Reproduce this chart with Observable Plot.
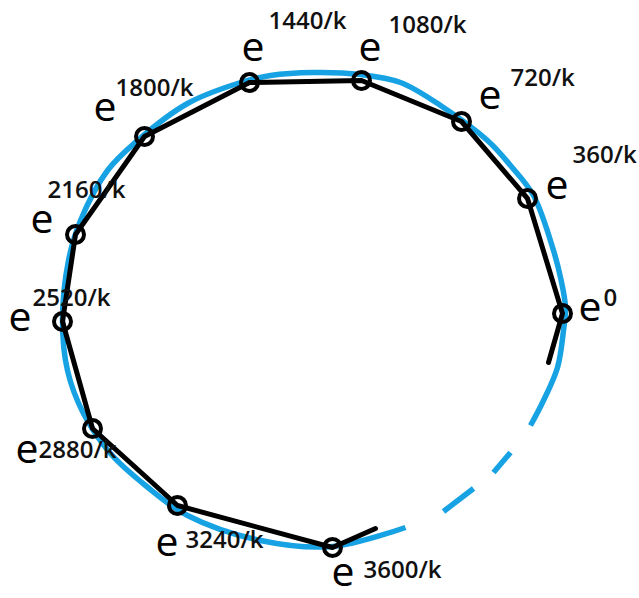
<!DOCTYPE html>
<html>
<head>
<meta charset="utf-8">
<script src="https://cdn.jsdelivr.net/npm/d3@7"></script>
<script src="https://cdn.jsdelivr.net/npm/@observablehq/plot@0.6"></script>
<style>
  html, body { margin: 0; padding: 0; background: #fff; }
  #chart svg { display: block; }
</style>
</head>
<body>
<div id="chart"></div>
<script>
// Points e^(360n/k) on the polygon (pixel units)
const exponents = ["0", "360/k", "720/k", "1080/k", "1440/k", "1800/k", "2160/k", "2520/k", "2880/k", "3240/k", "3600/k"];
const vertexX = [562, 527, 461, 361, 249, 144, 75, 62, 92, 177, 332];
const vertexY = [313, 198, 121, 80, 82, 136, 234, 321, 428, 505, 547];

// Stubs of the black path at its two open ends
const stubStartX = 548, stubStartY = 362;
const stubEndX = 375, stubEndY = 528;

// Blue circle (hand drawn): solid arc samples, then dashes
const arcX = [530, 543, 557, 563, 565, 560, 553, 533, 510, 487, 440, 400, 360, 313, 270, 237, 187, 137, 107, 80, 68, 62, 67, 83, 110, 145, 187, 260, 332, 405];
const arcY = [425, 400, 367, 330, 307, 277, 250, 195, 165, 140, 105, 82, 74, 72, 75, 83, 103, 140, 170, 220, 260, 320, 370, 413, 453, 485, 515, 540, 546, 527];
const dashX1 = [510, 493], dashY1 = [452, 472];
const dashX2 = [473, 443], dashY2 = [488, 511];

// Label anchors: big "e" (left, baseline) and exponent (left, baseline)
const eX = [578, 545, 478, 358, 241, 93, 30, 8, 15, 155, 331];
const eY = [320, 198, 108, 60, 60, 120, 232, 330, 462, 555, 585];
const supX = [603, 572, 510, 388, 268, 115, 47, 32, 38, 185, 363];
const supY = [305, 162, 85, 32, 28, 95, 197, 305, 457, 547, 577];

const blue = "#17a2e3";

const blackPath = [{x: stubStartX, y: stubStartY}]
  .concat(vertexX.map((x, i) => ({x, y: vertexY[i]})))
  .concat([{x: stubEndX, y: stubEndY}]);
const arc = arcX.map((x, i) => ({x, y: arcY[i]}));
const dashes = [
  ...dashX1.map((x, i) => ({x, y: dashY1[i], z: 1})),
  ...dashX2.map((x, i) => ({x, y: dashY2[i], z: 2}))
];
const vertices = vertexX.map((x, i) => ({x, y: vertexY[i], label: exponents[i]}));
const eLabels = exponents.map((s, i) => ({x: eX[i], y: eY[i]}));
const supLabels = exponents.map((s, i) => ({x: supX[i], y: supY[i], text: s}));

const E_SIZE = 41, SUP_SIZE = 24;

const plot = Plot.plot({
  width: 639,
  height: 598,
  margin: 0,
  x: {domain: [0, 639], range: [0, 639], axis: null},
  y: {domain: [0, 598], range: [0, 598], axis: null},
  style: {background: "#fff"},
  marks: [
    Plot.line(arc, {x: "x", y: "y", curve: "catmull-rom", stroke: blue, strokeWidth: 5.5, strokeLinecap: "butt"}),
    Plot.line(dashes, {x: "x", y: "y", z: "z", stroke: blue, strokeWidth: 5.5, strokeLinecap: "butt"}),
    Plot.line(blackPath, {x: "x", y: "y", stroke: "#000", strokeWidth: 5, strokeLinejoin: "round", strokeLinecap: "round"}),
    Plot.dot(vertices, {x: "x", y: "y", r: 8.5, stroke: "#000", strokeWidth: 4, fill: "none"}),
    Plot.text(eLabels, {x: "x", y: d => d.y - 0.32 * E_SIZE, text: () => "e", textAnchor: "start",
      fontSize: E_SIZE, fontFamily: "Open Sans", fill: "#000"}),
    Plot.text(supLabels, {x: "x", y: d => d.y - 0.32 * SUP_SIZE, text: "text", textAnchor: "start",
      fontSize: SUP_SIZE, fontWeight: 600, fontFamily: "Open Sans", fill: "#111"})
  ]
});
document.getElementById("chart").appendChild(plot);
</script>
</body>
</html>
